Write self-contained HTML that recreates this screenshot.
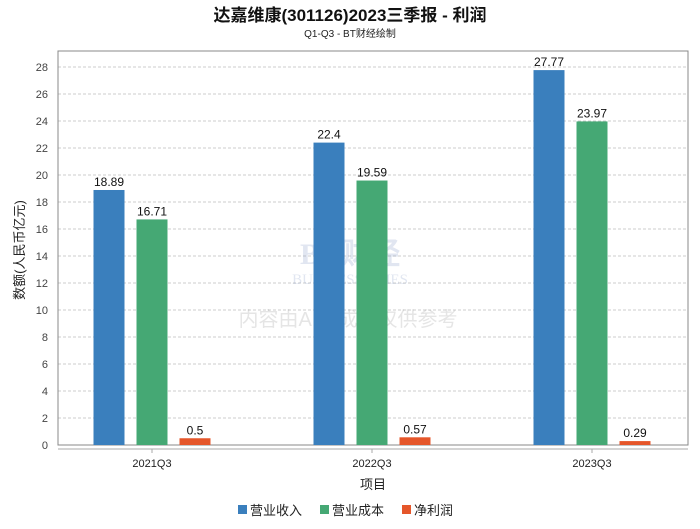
<!DOCTYPE html>
<html><head><meta charset="utf-8"><style>
body{margin:0;background:#fff;width:700px;height:524px;overflow:hidden;font-family:"Liberation Sans","Noto Sans CJK SC",sans-serif}
</style></head><body>
<svg id="c" width="700" height="524" xmlns="http://www.w3.org/2000/svg">
<text x="350" y="21" text-anchor="middle" font-size="17" font-weight="bold" fill="#111">达嘉维康(301126)2023三季报 - 利润</text>
<text x="350" y="37" text-anchor="middle" font-size="10" fill="#222">Q1-Q3 - BT财经绘制</text>
<g id="grid"></g>
<g opacity="0.25">
<text x="350" y="264" text-anchor="middle" font-size="30" font-family="Liberation Serif,serif" font-weight="bold" fill="#8aa0c8">BT财经</text>
<text x="350" y="284" text-anchor="middle" font-size="15" font-family="Liberation Serif,serif" fill="#8aa0c8">BUSINESSTIMES</text>
<text x="348" y="326" text-anchor="middle" font-size="20" fill="#999">内容由AI生成，仅供参考</text>
</g>
<rect x="58" y="51" width="630" height="394" fill="none" stroke="#888"/>
<line x1="58" y1="449" x2="688" y2="449" stroke="#aaa"/>
<g id="bars"></g>
<text transform="translate(24,250) rotate(-90)" text-anchor="middle" font-size="13" fill="#222">数额(人民币亿元)</text>
<text x="373" y="489" text-anchor="middle" font-size="13" fill="#222">项目</text>
<g id="legend"></g>
</svg>
<script>
const categories=["2021Q3","2022Q3","2023Q3"];
const seriesNames=["营业收入","营业成本","净利润"];
const revenue=[18.89,22.4,27.77];
const cost=[16.71,19.59,23.97];
const profit=[0.5,0.57,0.29];
const yTicks=[0,2,4,6,8,10,12,14,16,18,20,22,24,26,28];
const colors=["#3a7fbd","#45a874","#e5562a"];
const NS="http://www.w3.org/2000/svg";
const y=v=>445-v*13.5;
const x=i=>152+i*220;
function mk(t,a,p){const e=document.createElementNS(NS,t);for(const k in a)e.setAttribute(k,a[k]);p.appendChild(e);return e;}
const g=document.getElementById('grid');
yTicks.forEach(t=>{
 if(t>0){const l=mk('line',{x1:58,x2:688,y1:y(t),y2:y(t),stroke:'#ccc','stroke-dasharray':'3,2'},g);
 
 }
 const tx=mk('text',{x:48,y:y(t)+4,'text-anchor':'end','font-size':11,fill:'#444'},g);tx.textContent=t;
 
 
});
const b=document.getElementById('bars');
const all=[revenue,cost,profit];
categories.forEach((c,i)=>{
 all.forEach((s,j)=>{
  const cx=x(i)+(j-1)*43;
  const r=mk('rect',{x:cx-15.5,y:y(s[i]),width:31,height:445-y(s[i]),fill:colors[j]},b);
  
  
  const t=mk('text',{x:cx,y:y(s[i])-4,'text-anchor':'middle','font-size':12,fill:'#111'},b);t.textContent=s[i];
  
  
 });
 mk('line',{x1:x(i),x2:x(i),y1:449,y2:453,stroke:'#aaa'},b);
 const t=mk('text',{x:x(i),y:467,'text-anchor':'middle','font-size':11,fill:'#222'},b);t.textContent=c;
 
 
});
const lg=document.getElementById('legend');
const lx=[238,320,402];
seriesNames.forEach((n,j)=>{
 const r=mk('rect',{x:lx[j],y:505,width:9,height:9,fill:colors[j]},lg);
 
 
 const t=mk('text',{x:lx[j]+12,y:515,'font-size':13,fill:'#222'},lg);t.textContent=n;
 
 
});
</script>
</body></html>
